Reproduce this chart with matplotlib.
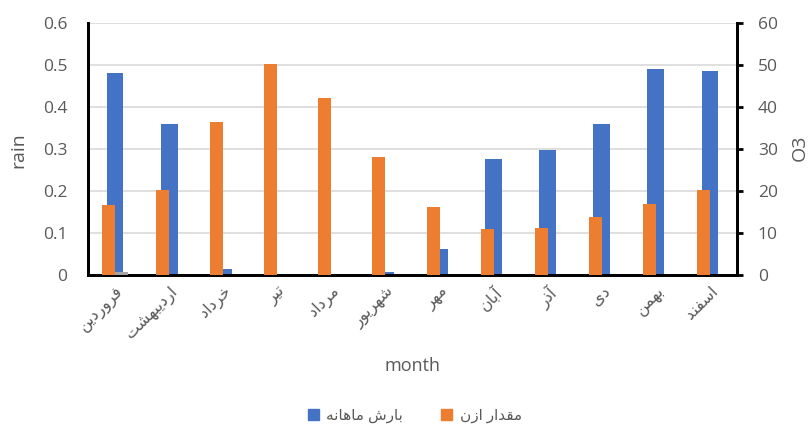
import numpy as np
import matplotlib
matplotlib.use('Agg')
import matplotlib.pyplot as plt
from matplotlib.patches import Patch

plt.rcParams['font.family'] = ['Open Sans', 'DejaVu Sans']

months = ['فروردین', 'اردیبهشت', 'خرداد', 'تیر', 'مرداد', 'شهریور',
          'مهر', 'آبان', 'آذر', 'دی', 'بهمن', 'اسفند']
rain = [0.480, 0.359, 0.014, 0.0, 0.0, 0.006, 0.062, 0.276, 0.298, 0.360, 0.490, 0.486]
ozone = [16.6, 20.2, 36.4, 50.2, 42.1, 28.0, 16.1, 10.9, 11.3, 13.8, 16.9, 20.2]
other = [0.8, 0, 0, 0, 0, 0, 0, 0, 0, 0, 0, 0]

legend_rain = 'بارش ماهانه'
legend_ozone = 'مقدار ازن'

# matplotlib has no arabic shaping -> map letters to presentation forms by hand
FORMS = {
    'ا': ('\uFE8D', '\uFE8E', None, None),
    'آ': ('\uFE81', '\uFE82', None, None),
    'ب': ('\uFE8F', '\uFE90', '\uFE91', '\uFE92'),
    'ت': ('\uFE95', '\uFE96', '\uFE97', '\uFE98'),
    'خ': ('\uFEA5', '\uFEA6', '\uFEA7', '\uFEA8'),
    'د': ('\uFEA9', '\uFEAA', None, None),
    'ذ': ('\uFEAB', '\uFEAC', None, None),
    'ر': ('\uFEAD', '\uFEAE', None, None),
    'ز': ('\uFEAF', '\uFEB0', None, None),
    'س': ('\uFEB1', '\uFEB2', '\uFEB3', '\uFEB4'),
    'ش': ('\uFEB5', '\uFEB6', '\uFEB7', '\uFEB8'),
    'ف': ('\uFED1', '\uFED2', '\uFED3', '\uFED4'),
    'ق': ('\uFED5', '\uFED6', '\uFED7', '\uFED8'),
    'م': ('\uFEE1', '\uFEE2', '\uFEE3', '\uFEE4'),
    'ن': ('\uFEE5', '\uFEE6', '\uFEE7', '\uFEE8'),
    'ه': ('\uFEE9', '\uFEEA', '\uFEEB', '\uFEEC'),
    'و': ('\uFEED', '\uFEEE', None, None),
    'ی': ('\uFEEF', '\uFEF0', '\uFEF3', '\uFEF4'),
}


def shape(s):
    out = []
    for i, c in enumerate(s):
        if c not in FORMS:
            out.append(c)
            continue
        prev = s[i - 1] if i > 0 else ''
        nxt = s[i + 1] if i + 1 < len(s) else ''
        join_prev = prev in FORMS and FORMS[prev][2] is not None
        join_next = FORMS[c][2] is not None and nxt in FORMS
        iso, fin, ini, med = FORMS[c]
        if join_prev and join_next:
            out.append(med)
        elif join_prev:
            out.append(fin)
        elif join_next:
            out.append(ini)
        else:
            out.append(iso)
    return ''.join(out[::-1])


blue = '#4472C4'
orange = '#ED7D31'
grey_txt = '#595959'

fig = plt.figure(figsize=(8.11, 4.28), dpi=100)
ax = fig.add_axes([88 / 811, 153 / 428, (737 - 88) / 811, (275 - 23) / 428])
ax2 = ax.twinx()

x = np.arange(len(months))
ax.bar(x, rain, width=0.31, color=blue, zorder=2)
ax2.bar(x - 0.12, ozone, width=0.24, color=orange, zorder=3)
ax2.bar(x + 0.12, other, width=0.24, color='#A5A5A5', zorder=3)

ax.set_xlim(-0.5, 11.5)
ax.set_ylim(0, 0.6)
ax2.set_ylim(0, 60)
ax.set_yticks(np.arange(0, 0.61, 0.1))
ax.set_yticklabels(['0', '0.1', '0.2', '0.3', '0.4', '0.5', '0.6'])
ax2.set_yticks(np.arange(0, 61, 10))

ax.yaxis.grid(True, color='#d9d9d9', linewidth=1.2)
ax.set_axisbelow(True)

for a in (ax, ax2):
    a.spines['top'].set_visible(False)
    for sp in ('left', 'right', 'bottom'):
        a.spines[sp].set_linewidth(2)
        a.spines[sp].set_color('black')

ax.tick_params(axis='y', length=0, pad=15, labelsize=12.5, labelcolor=grey_txt)
ax2.tick_params(axis='y', length=4, width=2, pad=11, labelsize=12.5, labelcolor=grey_txt)
ax.tick_params(axis='x', length=0, pad=6)

ax.set_xticks(x)
ax.set_xticklabels([shape(m) for m in months], rotation=45, ha='right',
                   va='top', rotation_mode='anchor', fontsize=11.5,
                   color=grey_txt)

fig.text(18 / 811, 1 - 150 / 428, 'rain', rotation=90, ha='center', va='center',
         fontsize=14, color=grey_txt)
fig.text(800 / 811, 1 - 148 / 428, 'O3', rotation=90, ha='center', va='center',
         fontsize=14, color=grey_txt)
fig.text(413 / 811, 1 - 366 / 428, 'month', ha='center', va='center',
         fontsize=13, color=grey_txt)

handles = [Patch(color=blue, label=shape(legend_rain)),
           Patch(color=orange, label=shape(legend_ozone))]
fig.legend(handles=handles, loc='center', bbox_to_anchor=(415 / 811, 1 - 416 / 428),
           ncol=2, frameon=False, fontsize=11, handlelength=0.7, handleheight=0.7,
           columnspacing=2.5, handletextpad=0.5, labelcolor=grey_txt)

fig.savefig('out.png', dpi=100)
